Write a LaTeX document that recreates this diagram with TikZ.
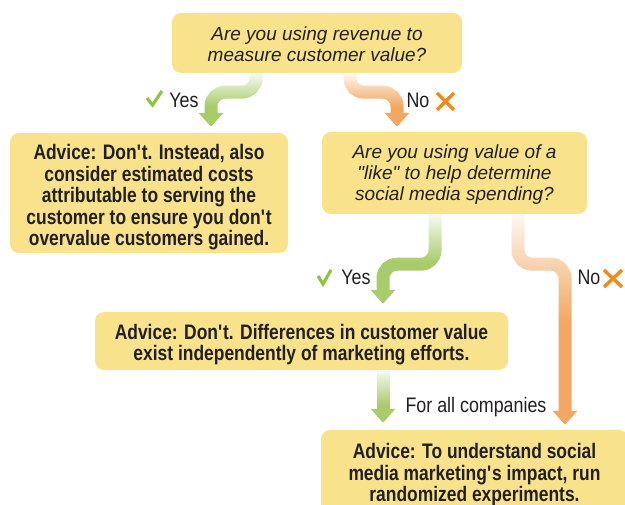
\documentclass[tikz,border=0pt]{standalone}
\usepackage{fontspec}
\setmainfont{Liberation Sans}[FakeStretch=0.85]
\newfontfamily\advfont{Liberation Sans}[FakeStretch=0.83]
\newfontfamily\qfont{Liberation Sans}
\usetikzlibrary{arrows.meta,fadings}
\definecolor{boxy}{HTML}{F8E38C}
\definecolor{grn}{HTML}{A9CC6B}
\definecolor{org}{HTML}{F2A862}
\definecolor{chk}{HTML}{8CC63F}
\definecolor{xor}{HTML}{EE8A24}
\definecolor{txt}{HTML}{231F20}
\newcommand\ap{\textquotesingle}
\tikzfading[name=fadedown, top color=transparent!8, bottom color=transparent!100]
\begin{document}
\begin{tikzpicture}[x=1pt,y=-1pt,
  box/.style={fill=boxy, rounded corners=9pt, inner sep=0pt},
  qtext/.style={inner sep=0pt, align=center, text=txt, font=\qfont\fontsize{19}{21}\selectfont\itshape},
  atext/.style={inner sep=0pt, align=center, text=txt, font=\advfont\fontsize{21}{21.5}\selectfont\bfseries},
  lab/.style={text=txt, inner sep=0pt, font=\fontsize{21}{22}\selectfont},
  arr/.style={line width=13pt, rounded corners=14pt, -{Triangle[width=24pt,length=14pt]}},
  fadebox/.style={fill=white, path fading=fadedown},
  chkst/.style={chk, line width=3.2pt},
  xst/.style={xor, line width=3.4pt}]
\useasboundingbox (0,0) rectangle (625,505);
\clip (0,0) rectangle (625,505);

% boxes
\node[box, minimum width=290pt, minimum height=60pt] (q1) at (317,43) {};
\node[box, minimum width=278pt, minimum height=120pt] (a1) at (149,193) {};
\node[box, minimum width=265pt, minimum height=82pt] (q2) at (454.5,173) {};
\node[box, minimum width=413pt, minimum height=58pt] (a2) at (301.5,341) {};
\node[box, minimum width=307pt, minimum height=85pt] (a3) at (474.5,472.5) {};

% box texts
\node[qtext] (q1t) at ([yshift=-1.5pt]q1.center) {Are you using revenue to\\measure customer value?};
\node[atext] (a1t) at ([yshift=-4.5pt]a1.center) {Advice: Don\ap t. Instead, also\\consider estimated costs\\attributable to serving the\\customer to ensure you don\ap t\\overvalue customers gained.};
\node[qtext] (q2t) at ([yshift=-1.5pt]q2.center) {Are you using value of a\\"like" to help determine\\social media spending?};
\node[atext] (a2t) at ([yshift=-3.5pt]a2.center) {Advice: Don\ap t. Differences in customer value\\exist independently of marketing efforts.};
\node[atext] (a3t) at ([yshift=-2.5pt]a3.center) {Advice: To understand social\\media marketing\ap s impact, run\\randomized experiments.};

% arrows
\draw[arr, grn] ([xshift=-61pt]q1.south) -- ++(0,19) -| ([xshift=62pt,yshift=6pt]a1.north);
\draw[arr, org] ([xshift=33pt]q1.south) -- ++(0,19) -| ([xshift=-57.5pt,yshift=5pt]q2.north);
\draw[arr, grn] ([xshift=-19.5pt]q2.south) -- ++(0,50) -| ([xshift=81.5pt,yshift=8pt]a2.north);
\draw[arr, org] ([xshift=63.5pt]q2.south) -- ++(0,50) -| ([xshift=90.5pt,yshift=5pt]a3.north);
\draw[arr, grn] ([xshift=81.5pt]a2.south) -- ([xshift=-91.5pt,yshift=7pt]a3.north);

% fades
\fill[fadebox] (196,73) rectangle (266,106);
\fill[fadebox] (340,73) rectangle (410,106);
\fill[fadebox] (368,214) rectangle (445,262);
\fill[fadebox] (508,214) rectangle (574,322);
\fill[fadebox] (374,370) rectangle (392,405);

% labels
\node[lab] (y1) at (184,100) {Yes};
\draw[chkst] (147,98) -- (152.5,105) -- (162,91);
\node[lab] (n1) at (418,100) {No};
\draw[xst] (437,93) -- (454,110) (437,110) -- (454,93);

\node[lab] (y2) at (356,277) {Yes};
\draw[chkst] (318,276) -- (323,284) -- (331,270);
\node[lab] (n2) at (589,277) {No};
\draw[xst] (604,270) -- (622,287) (604,287) -- (622,270);

\node[lab] (fa) at (476,407) {For all companies};
\end{tikzpicture}
\end{document}
